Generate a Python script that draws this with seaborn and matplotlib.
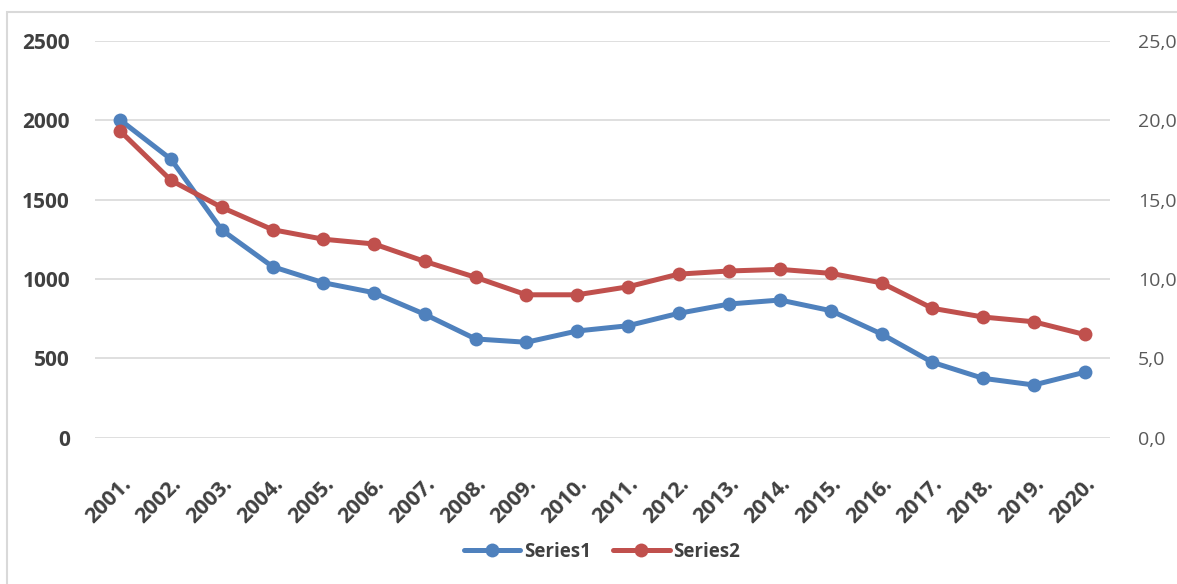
import matplotlib
matplotlib.use('Agg')
import matplotlib.pyplot as plt
from matplotlib.patches import Rectangle
import seaborn as sns
import pandas as pd

years = ['2001.', '2002.', '2003.', '2004.', '2005.', '2006.', '2007.', '2008.', '2009.', '2010.',
         '2011.', '2012.', '2013.', '2014.', '2015.', '2016.', '2017.', '2018.', '2019.', '2020.']
series1 = [2000, 1753, 1308, 1077, 976, 913, 777, 622, 601, 672,
           705, 783, 842, 867, 800, 653, 475, 374, 332, 412]
series2 = [19.3, 16.2, 14.5, 13.1, 12.5, 12.2, 11.1, 10.1, 9.0, 9.0,
           9.5, 10.3, 10.5, 10.6, 10.35, 9.75, 8.15, 7.6, 7.3, 6.5]
left_ticks = [0, 500, 1000, 1500, 2000, 2500]
right_ticks = [0, 5, 10, 15, 20, 25]

blue = '#4f81bd'
red = '#c0504d'
grid_c = '#d9d9d9'

sns.set_theme(style='white')
plt.rcParams['font.family'] = ['Open Sans', 'DejaVu Sans']

data = pd.DataFrame({'year': years, 'Series1': series1, 'Series2': series2})

fig = plt.figure(figsize=(11.77, 5.84), dpi=100)
ax = fig.add_axes([0.0807, 0.2505, 0.8623, 0.6798])
ax2 = ax.twinx()

# chart frame like Excel
fig.patches.append(Rectangle((7 / 1177, -0.2), 1.2, 1.2 - 12 / 584,
                             transform=fig.transFigure, fill=False,
                             edgecolor=grid_c, linewidth=1.5))

for y in left_ticks:
    ax.axhline(y, color=grid_c, linewidth=1.2, zorder=0)

sns.lineplot(data=data, x='year', y='Series1', ax=ax, color=blue, linewidth=3.6,
             marker='o', markersize=10, markeredgewidth=0, label='Series1', legend=False,
             sort=False)
sns.lineplot(data=data, x='year', y='Series2', ax=ax2, color=red, linewidth=3.6,
             marker='o', markersize=10, markeredgewidth=0, label='Series2', legend=False,
             sort=False)

ax.set_xlim(-0.5, len(years) - 0.5)
ax.set_ylim(0, 2500)
ax2.set_ylim(0, 25)
ax.set_yticks(left_ticks)
ax.set_yticklabels([str(v) for v in left_ticks], fontsize=15, fontweight='bold', color='#404040')
ax2.set_yticks(right_ticks)
ax2.set_yticklabels([f'{v:.1f}'.replace('.', ',') for v in right_ticks], fontsize=14, color='#595959')
ax.set_xticks(range(len(years)))
ax.set_xticklabels(years, rotation=45, ha='right', rotation_mode='anchor',
                   fontsize=15.5, fontweight='bold', color='#404040')
ax.tick_params(axis='x', length=0, pad=26)
ax.tick_params(axis='y', length=0, pad=18)
ax2.tick_params(axis='y', length=0, pad=20)
ax.set_xlabel('')
ax.set_ylabel('')
ax2.set_ylabel('')
for a in (ax, ax2):
    for s in a.spines.values():
        s.set_visible(False)
ax.grid(False)
ax2.grid(False)

h1, l1 = ax.get_legend_handles_labels()
h2, l2 = ax2.get_legend_handles_labels()
fig.legend(h1 + h2, l1 + l2, loc='center', bbox_to_anchor=(602 / 1177, 1 - 552 / 584),
           ncol=2, frameon=False, handlelength=3.0, columnspacing=1.2, handletextpad=0.2,
           prop={'family': ['Open Sans', 'DejaVu Sans'], 'weight': 'bold', 'size': 13.5},
           labelcolor='#404040')

fig.savefig('out.png', dpi=100)
